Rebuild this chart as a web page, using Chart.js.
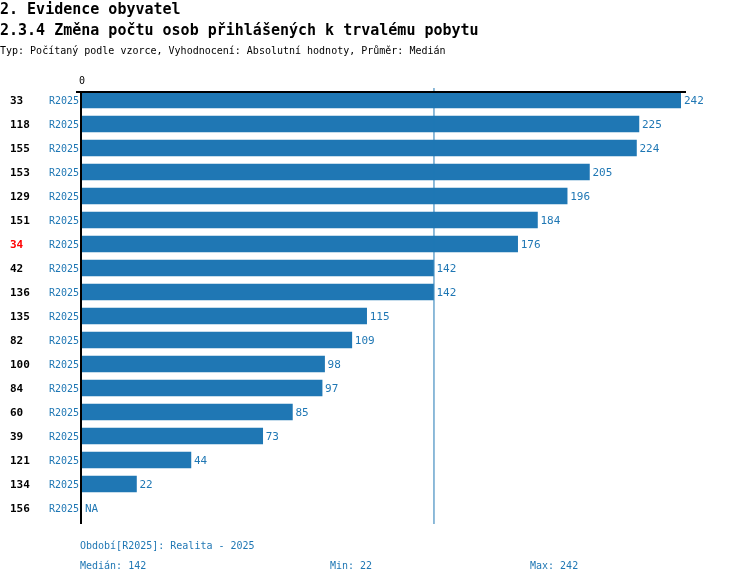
<!DOCTYPE html>
<html>
<head>
<meta charset="utf-8">
<script src="https://cdn.jsdelivr.net/npm/chart.js@4/dist/chart.umd.min.js"></script>
<style>
  html, body { margin: 0; padding: 0; background: #fff; }
  #wrap { width: 750px; height: 584px; position: relative; }
</style>
</head>
<body>
<div id="wrap"><canvas id="chart" width="750" height="584"></canvas></div>
<script>
const ids = ["33", "118", "155", "153", "129", "151", "34", "42", "136", "135", "82", "100", "84", "60", "39", "121", "134", "156"];
const periods = ["R2025", "R2025", "R2025", "R2025", "R2025", "R2025", "R2025", "R2025", "R2025",
  "R2025", "R2025", "R2025", "R2025", "R2025", "R2025", "R2025", "R2025", "R2025"];
const values = [242, 225, 224, 205, 196, 184, 176, 142, 142, 115, 109, 98, 97, 85, 73, 44, 22, null];
const highlightId = "34";

const titleMain = "2. Evidence obyvatel";
const titleSub = "2.3.4 Změna počtu osob přihlášených k trvalému pobytu";
const typeLine = "Typ: Počítaný podle vzorce, Vyhodnocení: Absolutní hodnoty, Průměr: Medián";
const periodLine = "Období[R2025]: Realita - 2025";

const BLUE = "#1f77b4";
const MONO = "'DejaVu Sans Mono', 'Liberation Mono', monospace";

const known = values.filter(v => v !== null).sort((a, b) => a - b);
const median = known[Math.floor(known.length / 2)];
const minVal = known[0];
const maxVal = known[known.length - 1];

const decorations = {
  id: "decorations",
  afterDraw(chart) {
    const ctx = chart.ctx;
    const { left, right, top, bottom } = chart.chartArea;
    const x = chart.scales.x;
    const y = chart.scales.y;
    ctx.save();

    // headings
    ctx.fillStyle = "#000";
    ctx.textBaseline = "alphabetic";
    ctx.textAlign = "left";
    ctx.font = "bold 15px " + MONO;
    ctx.fillText(titleMain, 0, 14);
    ctx.fillText(titleSub, 0, 35);
    ctx.font = "10px " + MONO;
    ctx.fillText(typeLine, 0, 54);

    // zero label
    ctx.textAlign = "center";
    ctx.textBaseline = "middle";
    ctx.fillText("0", x.getPixelForValue(0), top - 7);

    // median line
    const mx = x.getPixelForValue(median);
    ctx.strokeStyle = BLUE;
    ctx.lineWidth = 1;
    ctx.beginPath();
    ctx.moveTo(mx + 0.5, top);
    ctx.lineTo(mx + 0.5, bottom + 4);
    ctx.stroke();

    // axis lines
    ctx.strokeStyle = "#000";
    ctx.lineWidth = 2;
    ctx.beginPath();
    ctx.moveTo(left - 6, top + 4);
    ctx.lineTo(right + 5, top + 4);
    ctx.moveTo(left - 1, top + 3);
    ctx.lineTo(left - 1, bottom + 4);
    ctx.stroke();

    // row labels and values
    ids.forEach((id, i) => {
      const cy = y.getPixelForValue(i);
      ctx.textBaseline = "middle";
      ctx.textAlign = "left";
      ctx.font = "bold 11px " + MONO;
      ctx.fillStyle = id === highlightId ? "#ff0000" : "#000";
      ctx.fillText(id, 10, cy + 1);

      ctx.font = "10px " + MONO;
      ctx.fillStyle = BLUE;
      ctx.textAlign = "right";
      ctx.fillText(periods[i], left - 3, cy + 1);

      ctx.font = "11px " + MONO;
      ctx.textAlign = "left";
      const v = values[i];
      const tx = x.getPixelForValue(v === null ? 0 : v) + 3;
      ctx.fillText(v === null ? "NA" : String(v), tx, cy + 1);
    });

    // footer
    ctx.font = "10px " + MONO;
    ctx.fillStyle = BLUE;
    ctx.textAlign = "left";
    ctx.fillText(periodLine, left - 2, 546);
    ctx.fillText("Medián: " + median, left - 2, 566);
    ctx.fillText("Min: " + minVal, 330, 566);
    ctx.fillText("Max: " + maxVal, 530, 566);
    ctx.restore();
  }
};

new Chart(document.getElementById("chart").getContext("2d"), {
  type: "bar",
  data: {
    labels: ids,
    datasets: [{
      data: values,
      backgroundColor: BLUE,
      borderWidth: 0,
      barThickness: 16,
    }],
  },
  options: {
    indexAxis: "y",
    responsive: false,
    animation: false,
    layout: { padding: { left: 82, right: 69, top: 88, bottom: 64 } },
    scales: {
      x: { display: false, min: 0, max: maxVal },
      y: { display: false },
    },
    plugins: {
      legend: { display: false },
      tooltip: { enabled: false },
    },
  },
  plugins: [decorations],
});
</script>
</body>
</html>
